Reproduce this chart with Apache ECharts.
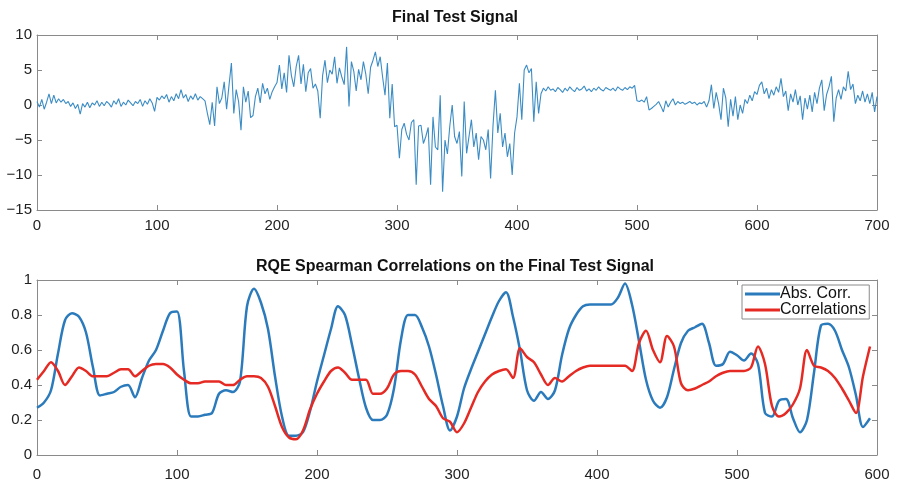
<!DOCTYPE html>
<html>
<head>
	<meta charset="utf-8">
	<title>Final Test Signal</title>
	<script src="https://cdn.jsdelivr.net/npm/echarts@6/dist/echarts.min.js"></script>
	<style>
		html, body { margin: 0; padding: 0; background: #fff; }
		#chart { width: 897px; height: 485px; }
	</style>
</head>
<body>
<div id="chart"></div>
<script>
	// top panel: signal sampled every 2 steps, t = 0..700
	var signalStep = 2;
	var signal = [
		0.5, -0.3, 0.8, -0.6, 0.4, 1.6, 0.2, 1.4, 0.3, 0.9,
		0.4, 0.8, 0.2, 0.5, -0.2, 0.3, -0.5, 0.1, -1.3, 0.2,
		-0.3, 0.4, -0.4, 0.3, 0.0, 0.6, -0.2, 0.4, -0.1, 0.5,
		0.2, -0.3, 0.6, 0.1, 0.9, -0.2, 0.4, 0.0, 0.7, 0.3,
		-0.1, 0.5, 0.2, 0.8, -0.2, 0.6, 0.1, 0.9, 0.3, -0.9,
		1.1, 0.7, 1.3, 0.9, 1.5, 0.4, 1.2, 0.6, 1.6, 0.9,
		2.2, 1.0, 1.5, 0.5, 1.3, 0.8, 1.6, 0.7, 1.2, 0.9,
		0.6, -1.2, -2.8, 0.4, -3.0, 2.6, 0.2, 1.0, 3.3, -0.6,
		2.8, 6.0, -1.2, 2.2, 0.5, -3.6, 2.6, 0.4, 2.0, -1.8,
		-1.5, 1.2, 2.4, 0.3, 3.1, 1.6, 2.4, 0.8, 1.9, 2.6,
		3.2, 5.7, 2.3, 4.6, 1.8, 7.1, 4.2, 2.6, 5.5, 7.1,
		3.0, 5.8, 1.9, 4.6, 5.2, 2.4, 3.0, 2.0, -1.9, 4.2,
		6.4, 3.2, 5.0, 4.4, 6.9, 3.1, 5.3, 4.0, 2.9, 8.3,
		-0.2, 6.2, 4.8, 2.0, 5.1, 3.6, 6.2, 4.4, 1.6, 5.4,
		6.4, 7.6, 5.5, 6.9, 4.0, 1.4, 6.0, -1.9, 3.0, -3.1,
		-2.9, -7.6, -3.5, -2.6, -4.2, -5.0, -2.5, -2.1, -11.4, -3.0,
		-2.9, -5.5, -4.5, -3.2, -11.4, -1.7, -6.0, -6.4, 1.4, -12.4,
		-5.0, -7.0, -3.0, 0.0, -4.5, -5.5, -3.8, -10.2, 0.5, -6.9,
		-4.5, -2.1, -6.0, -4.0, -7.8, -4.5, -5.0, -6.4, -3.5, -10.5,
		-3.0, 2.1, -4.0, -1.2, -6.0, -4.0, -7.4, -5.5, -10.0, -4.0,
		-1.7, 3.1, -2.1, 5.0, 5.7, 4.6, 5.2, -2.4, 3.3, -1.2,
		1.6, 2.4, 2.0, 2.6, 2.1, 2.3, 1.9, 2.5, 2.2, 1.8,
		2.4, 2.0, 2.6, 2.2, 1.9, 2.5, 2.1, 2.3, 2.7, 2.0,
		2.3, 1.9, 2.4, 2.1, 2.6, 2.2, 2.0, 2.5, 2.3, 2.1,
		2.4, 2.0, 2.6, 2.3, 2.1, 2.5, 2.2, 2.6, 2.4, 2.8,
		0.6, 0.5, 0.7, 0.4, 1.2, -0.7, -0.5, -0.2, 0.1, 0.5,
		-0.2, -1.0, 0.6, -0.3, 0.4, 0.9, 0.0, 0.5, 0.2, 0.4,
		0.1, 0.3, 0.5, 0.2, 0.4, 0.0, 0.3, 0.2, 0.5, -0.3,
		0.6, 2.9, -0.5, 1.8, 0.2, -2.1, 2.4, 1.0, -3.1, 0.8,
		-1.6, 1.2, -2.1, 0.0, -1.2, 0.8, 0.2, 1.4, 0.6, 1.9,
		1.5, 2.8, 3.3, 1.6, 2.4, 0.9, 2.2, 1.4, 2.6, 1.8,
		3.8, 1.2, 2.0, -0.8, 1.6, 0.4, 2.2, 0.0, 1.3, -2.1,
		1.0, -0.6, 1.4, -1.0, 1.8, 0.2, 2.4, 3.6, -0.8, 1.5,
		2.6, 4.1, -2.4, 1.0, 2.2, 0.8, 2.6, 2.0, 4.8, 2.2,
		3.0, 0.2, 1.4, 0.6, 2.0, 0.4, 1.6, 0.2, 1.8, -1.0,
		1.2
	];

	// bottom panel: correlations sampled every 5 steps, t = 0..595
	var corrStep = 5;
	var absCorr = [
		0.27, 0.30, 0.37, 0.58, 0.77, 0.81, 0.79, 0.70, 0.50, 0.34,
		0.35, 0.36, 0.39, 0.40, 0.33, 0.44, 0.54, 0.60, 0.71, 0.81,
		0.82, 0.48, 0.22, 0.22, 0.23, 0.24, 0.35, 0.37, 0.36, 0.42,
		0.85, 0.95, 0.87, 0.72, 0.45, 0.22, 0.11, 0.11, 0.13, 0.25,
		0.42, 0.57, 0.72, 0.85, 0.80, 0.63, 0.44, 0.27, 0.20, 0.20,
		0.23, 0.38, 0.66, 0.80, 0.80, 0.73, 0.62, 0.46, 0.28, 0.14,
		0.22, 0.38, 0.49, 0.59, 0.69, 0.79, 0.88, 0.93, 0.79, 0.60,
		0.37, 0.31, 0.36, 0.32, 0.37, 0.57, 0.72, 0.80, 0.85, 0.86,
		0.86, 0.86, 0.86, 0.90, 0.98, 0.86, 0.65, 0.43, 0.31, 0.27,
		0.33, 0.49, 0.64, 0.71, 0.73, 0.75, 0.64, 0.51, 0.52, 0.59,
		0.57, 0.54, 0.58, 0.52, 0.24, 0.22, 0.31, 0.32, 0.21, 0.13,
		0.20, 0.47, 0.74, 0.75, 0.71, 0.60, 0.50, 0.34, 0.16, 0.21
	];
	var correlations = [
		0.43, 0.48, 0.53, 0.48, 0.40, 0.45, 0.50, 0.48, 0.45, 0.45,
		0.45, 0.47, 0.49, 0.49, 0.45, 0.48, 0.51, 0.52, 0.52, 0.50,
		0.46, 0.43, 0.41, 0.41, 0.42, 0.42, 0.42, 0.40, 0.40, 0.43,
		0.45, 0.45, 0.44, 0.39, 0.28, 0.16, 0.10, 0.09, 0.14, 0.26,
		0.35, 0.42, 0.48, 0.50, 0.47, 0.43, 0.43, 0.43, 0.35, 0.35,
		0.38, 0.46, 0.48, 0.48, 0.46, 0.39, 0.32, 0.28, 0.21, 0.19,
		0.13, 0.18, 0.27, 0.36, 0.42, 0.46, 0.48, 0.49, 0.44, 0.61,
		0.56, 0.53, 0.46, 0.40, 0.44, 0.42, 0.45, 0.48, 0.50, 0.51,
		0.51, 0.51, 0.51, 0.51, 0.51, 0.48, 0.64, 0.71, 0.60, 0.53,
		0.68, 0.62, 0.41, 0.37, 0.38, 0.40, 0.42, 0.45, 0.47, 0.48,
		0.48, 0.48, 0.50, 0.62, 0.52, 0.28, 0.22, 0.24, 0.29, 0.38,
		0.60, 0.51, 0.50, 0.48, 0.44, 0.38, 0.31, 0.24, 0.45, 0.62
	];

	var frameColor = '#8a8a8a';
	var fontFamily = 'Liberation Sans, Arial, sans-serif';

	function pairs(arr, step) {
		return arr.map(function (v, i) { return [i * step, v]; });
	}

	// MATLAB style tick labels use a real minus sign
	function tickText(v) {
		return String(v).replace('-', '\u2212');
	}

	function frameAxis(extra, labels) {
		var base = {
			type: 'value',
			axisLine: { show: true, onZero: false, lineStyle: { color: frameColor, width: 1 } },
			axisTick: { show: true, inside: true, length: 5, lineStyle: { color: frameColor } },
			splitLine: { show: false },
			axisLabel: labels ? Object.assign({ color: '#222', fontSize: 15, fontFamily: fontFamily, formatter: tickText }, labels) : { show: false }
		};
		return Object.assign(base, extra);
	}

	var chart = echarts.init(document.getElementById('chart'), null, { renderer: 'canvas' });
	chart.setOption({
		animation: false,
		backgroundColor: '#fff',
		title: [
			{ text: 'Final Test Signal', left: 450, top: 5, textAlign: 'center',
				textStyle: { fontSize: 16, fontWeight: 'bold', color: '#111', fontFamily: fontFamily } },
			{ text: 'RQE Spearman Correlations on the Final Test Signal', left: 450, top: 254, textAlign: 'center',
				textStyle: { fontSize: 16, fontWeight: 'bold', color: '#111', fontFamily: fontFamily } }
		],
		legend: {
			data: ['Abs. Corr.', 'Correlations'],
			orient: 'vertical',
			left: 742,
			top: 285,
			itemGap: 0,
			itemWidth: 35,
			itemHeight: 3,
			icon: 'rect',
			padding: [1, 3, 1, 3],
			borderColor: frameColor,
			borderWidth: 1,
			backgroundColor: '#fff',
			textStyle: { fontSize: 16, lineHeight: 16, color: '#111', padding: [0, 0, 0, -5], fontFamily: fontFamily }
		},
		grid: [
			{ left: 37, top: 35, width: 840, height: 175 },
			{ left: 37, top: 280, width: 840, height: 175 }
		],
		xAxis: [
			frameAxis({ gridIndex: 0, min: 0, max: 700, interval: 100 }, { margin: 8 }),
			frameAxis({ gridIndex: 0, position: 'top', min: 0, max: 700, interval: 100 }),
			frameAxis({ gridIndex: 1, min: 0, max: 600, interval: 100 }, { margin: 12 }),
			frameAxis({ gridIndex: 1, position: 'top', min: 0, max: 600, interval: 100 })
		],
		yAxis: [
			frameAxis({ gridIndex: 0, min: -15, max: 10, interval: 5 }, { margin: 5 }),
			frameAxis({ gridIndex: 0, position: 'right', min: -15, max: 10, interval: 5 }),
			frameAxis({ gridIndex: 1, min: 0, max: 1, interval: 0.2 }, { margin: 5 }),
			frameAxis({ gridIndex: 1, position: 'right', min: 0, max: 1, interval: 0.2 })
		],
		series: [
			{
				name: 'Final Test Signal',
				type: 'line',
				xAxisIndex: 0,
				yAxisIndex: 0,
				data: pairs(signal, signalStep),
				showSymbol: false,
				lineStyle: { color: '#3b8cc4', width: 1.1 },
				itemStyle: { color: '#3b8cc4' }
			},
			{
				name: 'Abs. Corr.',
				type: 'line',
				xAxisIndex: 2,
				yAxisIndex: 2,
				data: pairs(absCorr, corrStep),
				smooth: 0.3,
				showSymbol: false,
				lineStyle: { color: '#2b7bbc', width: 2.5 },
				itemStyle: { color: '#2b7bbc' }
			},
			{
				name: 'Correlations',
				type: 'line',
				xAxisIndex: 2,
				yAxisIndex: 2,
				data: pairs(correlations, corrStep),
				smooth: 0.3,
				showSymbol: false,
				lineStyle: { color: '#e52a24', width: 2.5 },
				itemStyle: { color: '#e52a24' }
			}
		]
	});
</script>
</body>
</html>
